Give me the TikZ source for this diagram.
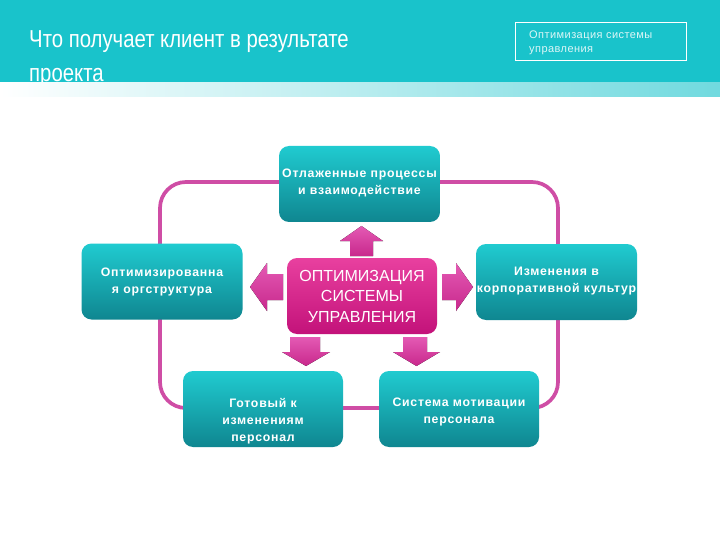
\documentclass[tikz,border=0pt]{standalone}
\usepackage{fontspec}
\setmainfont{Liberation Sans}
\newfontfamily\titlefont[FakeStretch=0.83]{Liberation Sans}
\newfontfamily\boxfont[LetterSpace=6]{Liberation Sans}
\newfontfamily\smallfont[LetterSpace=4]{Liberation Sans}
\definecolor{headteal}{HTML}{19C3CB}
\definecolor{tealtop}{HTML}{20CBD0}
\definecolor{tealbot}{HTML}{0F8690}
\definecolor{pinkline}{HTML}{CF4DA5}
\definecolor{pinktop}{HTML}{E8409F}
\definecolor{pinkbot}{HTML}{C3127A}
\definecolor{arrtop}{HTML}{E45AB4}
\definecolor{arrbot}{HTML}{C8288C}
\begin{document}
\begin{tikzpicture}[x=1pt,y=-1pt,
  tealbox/.style={rounded corners=10pt, minimum width=161pt, minimum height=76pt,
    top color=tealtop, bottom color=tealbot, draw=none, inner sep=0pt},
  boxtext/.style={anchor=north, text=white, align=center, inner sep=0pt,
    font=\boxfont\bfseries\fontsize{12.3}{17}\selectfont},
  pinkbox/.style={rounded corners=10pt, minimum width=150pt, minimum height=76pt,
    top color=pinktop, bottom color=pinkbot, draw=none, text=white, align=center,
    font=\fontsize{16}{20.5}\selectfont},
  titletext/.style={anchor=base west, text=white, inner sep=0pt,
    font=\titlefont\fontsize{24.5}{32}\selectfont},
  blockarrow/.style={top color=arrtop, bottom color=arrbot, draw=none},
  frameline/.style={draw=pinkline, line width=3.7pt, rounded corners=26pt}
]
\useasboundingbox (0,0) rectangle (720,540);
\fill[white] (0,0) rectangle (720,540);
% header
\fill[headteal] (0,0) rectangle (720,83);
\node[titletext] (title1) at (29,48) {Что получает клиент в результате};
\node[titletext] (title2) at (29,82) {проекта};
\shade[left color=white, middle color=headteal!10, right color=headteal!62] (0,83) rectangle (720,97);
\node[draw=white, line width=0.7pt, minimum width=171pt, minimum height=38pt,
  inner sep=0pt] (hbox) at (600.5,41) {};
\node[anchor=north west, text=white!85!headteal, align=left, inner sep=0pt,
  font=\smallfont\fontsize{11}{14}\selectfont] (htext) at (529,31)
  {Оптимизация системы\\управления};
% frame
\draw[frameline] (160,182) rectangle (558,408);
% teal boxes
\node[tealbox] (top) at (359.5,184) {};
\node[tealbox] (left) at (162,281.5) {};
\node[tealbox] (right) at (556.5,282) {};
\node[tealbox, minimum width=160pt] (bl) at (263,409) {};
\node[tealbox, minimum width=160pt] (br) at (459,409) {};
\node[boxtext] (toptext) at ([yshift=-23pt]top.north) {Отлаженные процессы\\и взаимодействие};
\node[boxtext] (lefttext) at ([yshift=-24pt]left.north) {Оптимизированна\\я оргструктура};
\node[boxtext] (righttext) at ([yshift=-23pt]right.north) {Изменения в\\корпоративной культур};
\node[boxtext] (bltext) at ([yshift=-27pt]bl.north) {Готовый к\\изменениям\\персонал};
\node[boxtext] (brtext) at ([yshift=-27pt]br.north) {Система мотивации\\персонала};
% center
\node[pinkbox] (center) at (362,296) {ОПТИМИЗАЦИЯ\\СИСТЕМЫ\\УПРАВЛЕНИЯ};
% block arrows
\fill[blockarrow] (361.5,226) -- (383,241) -- (373,241) -- (373,256) -- (350,256) -- (350,241) -- (340,241) -- cycle;
\fill[blockarrow] (250,287) -- (267,263) -- (267,274) -- (283,274) -- (283,300) -- (267,300) -- (267,311) -- cycle;
\fill[blockarrow] (473,287) -- (456,263) -- (456,274) -- (442,274) -- (442,300) -- (456,300) -- (456,311) -- cycle;
\fill[blockarrow] (306,366) -- (330,352) -- (320,352) -- (320,337) -- (290,337) -- (290,352) -- (282,352) -- cycle;
\fill[blockarrow] (416.5,366) -- (440,352) -- (427,352) -- (427,337) -- (403,337) -- (403,352) -- (393,352) -- cycle;
\end{tikzpicture}
\end{document}
